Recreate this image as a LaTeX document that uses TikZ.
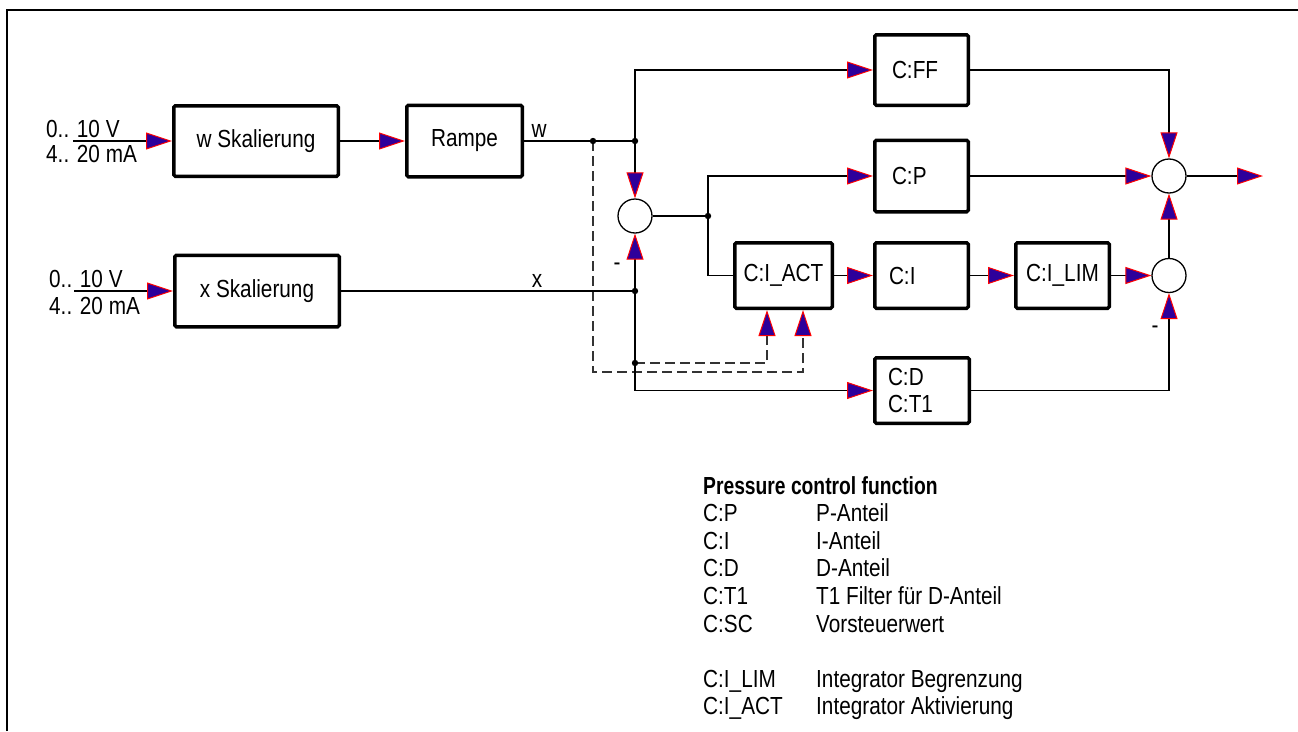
\documentclass[tikz,border=0pt]{standalone}
\usepackage{fontspec}
\setmainfont{Liberation Sans}[FakeStretch=0.84]
\newfontfamily\tfont{Liberation Sans}[FakeStretch=0.78]
\usetikzlibrary{arrows.meta,calc}
\definecolor{ablue}{RGB}{45,0,155}
\newcommand\myfs{\fontsize{24.7pt}{27.6pt}\selectfont}
\tikzset{
 blk/.style={draw, line width=3.5pt, rounded corners=1.5pt, inner sep=0pt, fill=white},
 conn/.style={line width=1.3pt},
 arr/.style={conn, -{Triangle[length=26pt,width=17pt,line width=1pt,color=red,fill=ablue]}},
 sumc/.style={circle, draw, line width=1.3pt, minimum size=34pt, inner sep=0pt},
 dsh/.style={dash pattern=on 10pt off 5pt, draw=black!80},
 lbl/.style={inner sep=0pt},
}
\begin{document}
\begin{tikzpicture}[x=1pt,y=-1pt,font=\myfs]
\useasboundingbox (0,0) rectangle (1298,731);
\draw[line width=2.8pt] (7,731) -- (7,10) -- (1298,10);

% blocks
\node[blk, minimum width=164.5pt, minimum height=70.5pt] (wsk) at (256,141) {w Skalierung};
\node[blk, minimum width=164.5pt, minimum height=71.5pt] (xsk) at (257,291) {x Skalierung};
\node[blk, minimum width=115.5pt, minimum height=71.5pt] (rampe) at (464.5,141) {Rampe};
\node[blk, minimum width=93.5pt, minimum height=70.5pt, text width=59pt, align=left] (cff) at (921.5,70) {C:FF};
\node[blk, minimum width=93.5pt, minimum height=71.5pt, text width=59pt, align=left] (cp) at (921.5,176) {C:P};
\node[blk, minimum width=97.5pt, minimum height=65.5pt] (ciact) at (783.5,275.5) {C:I\_ACT};
\node[blk, minimum width=93.5pt, minimum height=65.5pt, text width=65pt, align=left] (ci) at (921.5,275.5) {C:I};
\node[blk, minimum width=93.5pt, minimum height=65.5pt] (cilim) at (1062.5,275.5) {C:I\_LIM};
\node[blk, minimum width=94.5pt, minimum height=65.5pt, text width=68pt, align=left] (cd) at (922,390.5) {C:D\\C:T1};

% summing points
\node[sumc] (s1) at (635,216) {};
\node[sumc] (s2) at (1169,176) {};
\node[sumc] (s3) at (1169,275.5) {};

% coordinates
\coordinate (inw) at (73,141);
\coordinate (inx) at (74,291);
\coordinate (d1) at (593,141);
\coordinate (d2) at (635,141);
\coordinate (d3) at (708,216);
\coordinate (d4) at (635,291);
\coordinate (d5) at (635,363);
\coordinate (out) at (1263,176);

% dashed activation lines
\draw[arr, dsh] (d1) -- ++(0,231) -| ([xshift=19.5pt]ciact.south);
\draw[arr, dsh] (d5) -| ([xshift=-16.5pt]ciact.south);

% connectors
\draw[arr] (inw) -- (wsk.west);
\draw[arr] (inx) -- (xsk.west);
\draw[arr] (wsk.east) -- (rampe.west);
\draw[conn] (rampe.east) -- (d1) -- (d2);
\draw[arr] (d2) |- (cff.west);
\draw[arr] (d2) -- (s1.north);
\draw[conn] (xsk.east) -- (d4);
\draw[arr] (d4) -- (s1.south);
\draw[arr] (d4) |- (cd.west);
\draw[conn] (s1.east) -- (d3);
\draw[arr] (d3) |- (cp.west);
\draw[conn] (d3) |- (ciact.west);
\draw[arr] (ciact.east) -- (ci.west);
\draw[arr] (ci.east) -- (cilim.west);
\draw[arr] (cilim.east) -- (s3.west);
\draw[arr] (cp.east) -- (s2.west);
\draw[arr] (cff.east) -| (s2.north);
\draw[arr] (s3.north) -- (s2.south);
\draw[arr] (cd.east) -| (s3.south);
\draw[arr] (s2.east) -- (out);

% junction dots
\foreach \d in {d1,d2,d3,d4,d5} \fill (\d) circle (3.2pt);

% labels
\node[lbl, anchor=base] (lw) at (539,137) {w};
\node[lbl, anchor=base] (lx) at (537,287) {x};
\node[lbl, anchor=base] (m1) at (617,270) {-};
\node[lbl, anchor=base] (m3) at (1155,333) {-};
\node[lbl, anchor=base west] (iw1) at (46,137) {0.. 10 V};
\node[lbl, anchor=base west] (iw2) at (46,162) {4.. 20 mA};
\node[lbl, anchor=base west] (ix1) at (49,287) {0.. 10 V};
\node[lbl, anchor=base west] (ix2) at (49,314) {4.. 20 mA};

% legend
\node[lbl, anchor=base west] (legend) at (703,494) {%
\begin{tabular}[t]{@{}p{113pt}@{}l@{}}
\multicolumn{2}{@{}l@{}}{\tfont\bfseries Pressure control function}\\
C:P & P-Anteil\\
C:I & I-Anteil\\
C:D & D-Anteil\\
C:T1 & T1 Filter für D-Anteil\\
C:SC & Vorsteuerwert\\
 & \\
C:I\_LIM & Integrator Begrenzung\\
C:I\_ACT & Integrator Aktivierung
\end{tabular}};
\end{tikzpicture}
\end{document}
